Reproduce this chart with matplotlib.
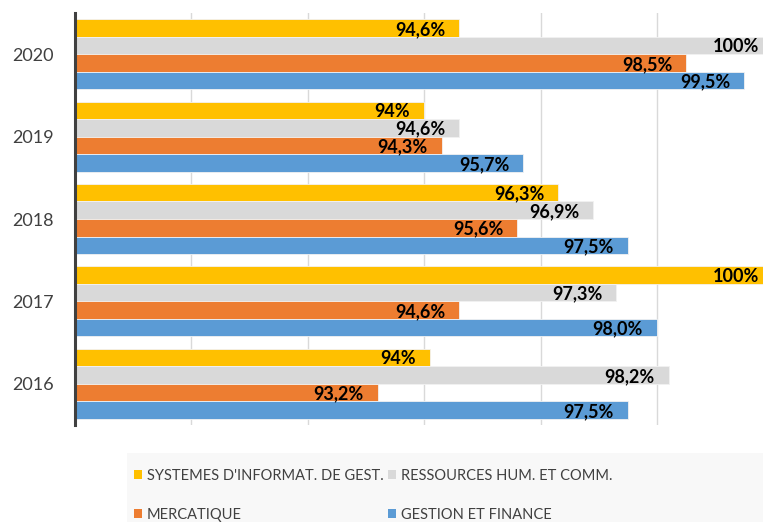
import numpy as np
import matplotlib
matplotlib.use("Agg")
import matplotlib.pyplot as plt
from matplotlib.patches import Rectangle, Patch

plt.rcParams['font.family'] = ['Lato', 'DejaVu Sans']

years = ["2020", "2019", "2018", "2017", "2016"]
series_names = ["SYSTEMES D'INFORMAT. DE GEST.", "RESSOURCES HUM. ET COMM.",
                "MERCATIQUE", "GESTION ET FINANCE"]
colors = ["#FFC000", "#D9D9D9", "#ED7D31", "#5B9BD5"]

sig = [94.6, 94.0, 96.3, 100.0, 94.1]
rh = [100.0, 94.6, 96.9, 97.3, 98.2]
merc = [98.5, 94.3, 95.6, 94.6, 93.2]
gf = [99.5, 95.7, 97.5, 98.0, 97.5]

sig_lbl = ["94,6%", "94%", "96,3%", "100%", "94%"]
rh_lbl = ["100%", "94,6%", "96,9%", "97,3%", "98,2%"]
merc_lbl = ["98,5%", "94,3%", "95,6%", "94,6%", "93,2%"]
gf_lbl = ["99,5%", "95,7%", "97,5%", "98,0%", "97,5%"]

values = [sig, rh, merc, gf]
labels = [sig_lbl, rh_lbl, merc_lbl, gf_lbl]

fig = plt.figure(figsize=(7.63, 5.22), dpi=100)
# plot area runs past the right edge, like in the original screenshot
ax = fig.add_axes([75 / 763, 1 - 425 / 522, 698.4 / 763, 412 / 522])

y = np.arange(len(years))
bh = 0.2125
for i, (vals, lbls) in enumerate(zip(values, labels)):
    pos = y - 1.5 * bh + i * bh
    ax.barh(pos, vals, height=bh, color=colors[i], edgecolor="#f2f2f2",
            linewidth=0.6, zorder=2, left=0)
    for p, v, t in zip(pos, vals, lbls):
        ax.annotate(t, (v, p), xytext=(-10, -1), textcoords="offset points",
                    ha="right", va="center", fontsize=13, fontweight="bold",
                    color="black", zorder=3)

ax.set_xlim(88, 100)
ax.set_ylim(len(years) - 0.5, -0.5)
ax.set_xticks([88, 90, 92, 94, 96, 98, 100])
ax.set_xticklabels([])
ax.tick_params(axis="x", length=0)
ax.set_yticks(y)
ax.set_yticklabels(years, fontsize=13, color="#404040")
ax.tick_params(axis="y", length=0, pad=15.5)
ax.grid(axis="x", color="#d9d9d9", linewidth=1, zorder=0)
ax.set_axisbelow(True)
for s in ["top", "right", "bottom"]:
    ax.spines[s].set_visible(False)
ax.spines["left"].set_color("#404040")
ax.spines["left"].set_linewidth(2.2)
ax.spines["left"].set_zorder(4)

# legend background
fig.patches.append(Rectangle((127 / 763, 0), 1, 1 - 453 / 522,
                             transform=fig.transFigure, facecolor="#f8f8f8",
                             edgecolor="none", zorder=0))
# legend fills column by column, so reorder to get the rows right
order = [0, 2, 1, 3]
handles = [Patch(facecolor=colors[k], edgecolor="none") for k in order]
names = [series_names[k] for k in order]
fig.legend(handles, names, ncol=2, loc="upper left",
           bbox_to_anchor=(134 / 763, 1 - 469 / 522), frameon=False,
           fontsize=10.5, labelcolor="#404040", handlelength=0.55,
           handleheight=0.55, handletextpad=0.35, columnspacing=0.3,
           labelspacing=1.7, borderpad=0, borderaxespad=0)

fig.savefig("out.png", dpi=100)
